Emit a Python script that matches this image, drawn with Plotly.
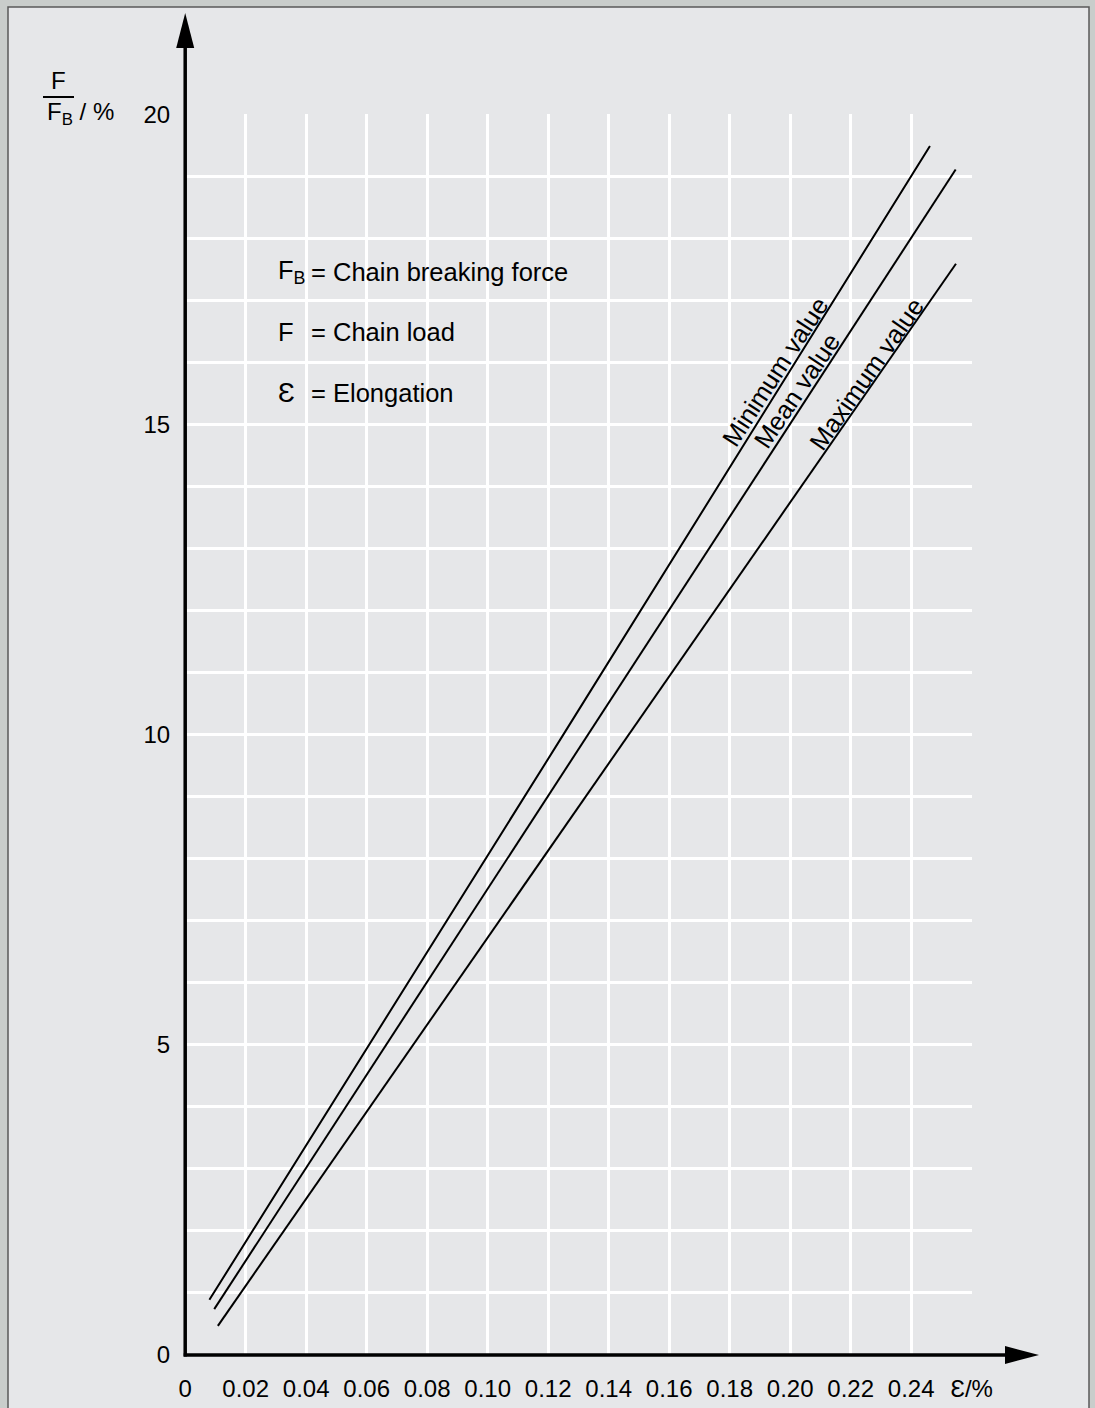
import plotly.graph_objects as go

# Figure size in pixels
W, H = 1095, 1408

# ---- data -----------------------------------------------------------------
# Elongation (%) and relative load F/F_B (%) along each characteristic line
min_eps = [0.008, 0.125, 0.2462]
min_load = [0.89, 10.0, 19.49]
mean_eps = [0.0096, 0.1333, 0.2547]
mean_load = [0.74, 10.0, 19.11]
max_eps = [0.0108, 0.1465, 0.2548]
max_load = [0.47, 10.0, 17.59]

series_names = ["Minimum value", "Mean value", "Maximum value"]

# axis ticks / grid
x_tickvals = [round(i * 0.02, 2) for i in range(14)]
x_ticktext = ["0", "0.02", "0.04", "0.06", "0.08", "0.10", "0.12", "0.14",
              "0.16", "0.18", "0.20", "0.22", "0.24", "Ɛ/%"]
y_tickvals = [0, 5, 10, 15, 20]
y_ticktext = ["0", "5", "10", "15", "20"]
y_grid_step = 1

# explanation block
symbols = ["F<sub>B</sub>", "F", "Ɛ"]
meanings = ["= Chain breaking force", "= Chain load", "= Elongation"]

# ---- layout geometry (pixels) ----------------------------------------------
PLOT_L, PLOT_R = 185.2, 971.7
PLOT_T, PLOT_B = 114.3, 1355.0
FONT = "Liberation Sans, Arial, Helvetica, sans-serif"
FS = 24          # tick labels / axis title
FS_TXT = 25.5    # explanation block and line labels
BG = "#e6e7e9"
OUTER = "#c9cdcb"


def px(x):
    return x / W


def py(y):
    return 1 - y / H


fig = go.Figure()

line_sets = [(min_eps, min_load), (mean_eps, mean_load), (max_eps, max_load)]
for name, (xs, ys) in zip(series_names, line_sets):
    fig.add_trace(go.Scatter(x=xs, y=ys, mode="lines", name=name,
                             line=dict(color="black", width=2),
                             showlegend=False, hoverinfo="skip"))

# rotated labels along each line
label_pos = [(0.1950, 15.84, -57), (0.2024, 15.55, -56), (0.2252, 15.82, -55)]
for name, (lx, ly, ang) in zip(series_names, label_pos):
    fig.add_annotation(x=lx, y=ly, xref="x", yref="y", text=name,
                       showarrow=False, textangle=ang,
                       font=dict(family=FONT, size=FS_TXT, color="black"))

shapes = []
# panel with thin dark frame
shapes.append(dict(type="rect", xref="paper", yref="paper", layer="below",
                   x0=px(8), x1=px(1089), y0=py(1430), y1=py(7),
                   fillcolor=BG, line=dict(color="#5a5a5a", width=1.5)))
# y axis with arrow head
shapes.append(dict(type="line", xref="paper", yref="paper",
                   x0=px(PLOT_L), x1=px(PLOT_L), y0=py(PLOT_B + 1.5), y1=py(46),
                   line=dict(color="black", width=3.5)))
shapes.append(dict(type="path", xref="paper", yref="paper",
                   path=f"M {px(PLOT_L - 9)} {py(48)} L {px(PLOT_L + 9)} {py(48)} "
                        f"L {px(PLOT_L)} {py(13)} Z",
                   fillcolor="black", line=dict(color="black", width=0)))
# x axis with arrow head
shapes.append(dict(type="line", xref="paper", yref="paper",
                   x0=px(PLOT_L - 1.5), x1=px(1007), y0=py(PLOT_B), y1=py(PLOT_B),
                   line=dict(color="black", width=3.5)))
shapes.append(dict(type="path", xref="paper", yref="paper",
                   path=f"M {px(1005)} {py(PLOT_B - 9)} L {px(1005)} {py(PLOT_B + 9)} "
                        f"L {px(1039)} {py(PLOT_B)} Z",
                   fillcolor="black", line=dict(color="black", width=0)))
# fraction bar of the y-axis title
shapes.append(dict(type="line", xref="paper", yref="paper",
                   x0=px(43), x1=px(74), y0=py(97), y1=py(97),
                   line=dict(color="black", width=2)))

annotations = []
# y-axis title F / F_B / %
annotations.append(dict(xref="paper", yref="paper", x=px(58), y=py(81),
                        text="F", showarrow=False, xanchor="center", yanchor="middle",
                        font=dict(family=FONT, size=FS, color="black")))
annotations.append(dict(xref="paper", yref="paper", x=px(45), y=py(114),
                        text="F<sub>B</sub> / %", showarrow=False,
                        xanchor="left", yanchor="middle",
                        font=dict(family=FONT, size=FS, color="black")))
# explanation block
rows_y = [272, 332, 393]
for sym, txt, yy in zip(symbols, meanings, rows_y):
    annotations.append(dict(xref="paper", yref="paper", x=px(276), y=py(yy),
                            text=sym, showarrow=False, xanchor="left",
                            yanchor="middle",
                            font=dict(family=FONT, size=28 if sym == "Ɛ" else FS_TXT,
                                      color="black")))
    annotations.append(dict(xref="paper", yref="paper", x=px(309), y=py(yy),
                            text=txt, showarrow=False, xanchor="left",
                            yanchor="middle",
                            font=dict(family=FONT, size=FS_TXT, color="black")))

grid_style = dict(showgrid=True, gridcolor="white", gridwidth=3)

fig.update_layout(
    width=W, height=H,
    margin=dict(l=0, r=0, t=0, b=0, pad=0, autoexpand=False),
    paper_bgcolor=OUTER,
    plot_bgcolor="rgba(0,0,0,0)",
    shapes=shapes,
    annotations=list(fig.layout.annotations) + annotations,
    xaxis=dict(domain=[px(PLOT_L), px(PLOT_R)], range=[0, 0.26],
               tickmode="array", tickvals=x_tickvals, ticktext=x_ticktext,
               zeroline=False, showline=False, ticks="", automargin=False,
               ticklabelstandoff=17,
               tickfont=dict(family=FONT, size=FS, color="black"), **grid_style),
    yaxis=dict(domain=[py(PLOT_B), py(PLOT_T)], range=[0, 20],
               tickmode="array", tickvals=y_tickvals, ticktext=y_ticktext,
               zeroline=False, showline=False, ticks="", automargin=False,
               ticklabelstandoff=14,
               minor=dict(dtick=y_grid_step, tick0=0, ticks="", **grid_style),
               tickfont=dict(family=FONT, size=FS, color="black"), **grid_style),
)

fig.write_html("out.html")
